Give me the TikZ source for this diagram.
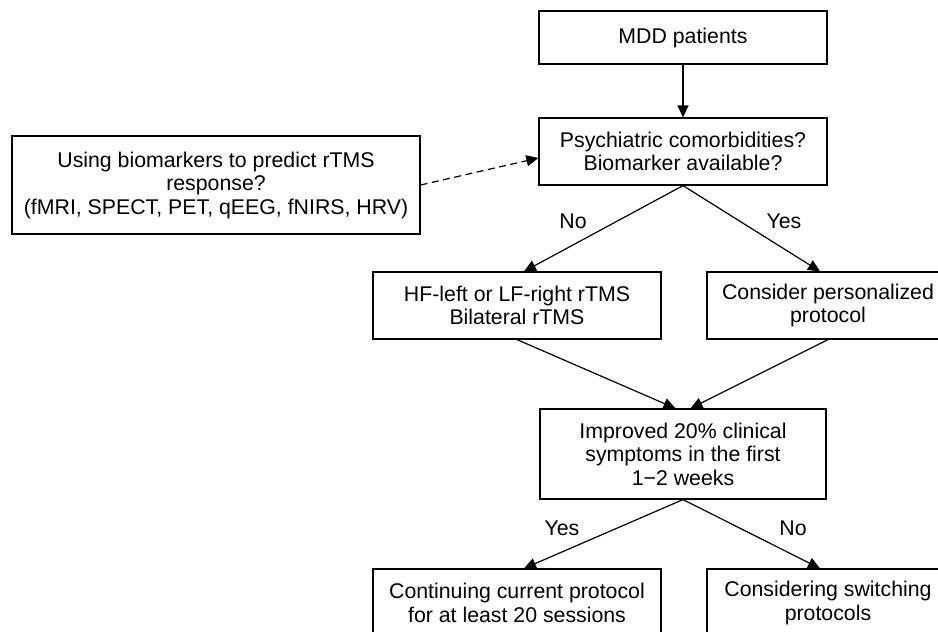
\documentclass[tikz,border=0pt]{standalone}
\usepackage{fontspec}
\setmainfont{Liberation Sans}
\usetikzlibrary{arrows.meta,calc}
\begin{document}
\begin{tikzpicture}[x=1pt,y=-1pt,
  box/.style 2 args={draw, line width=1.2pt, align=center, inner sep=0pt,
    minimum width=#1, minimum height=#2, font=\fontsize{21.3}{23.5}\selectfont},
  arr/.style={line width=1.2pt, -{Triangle[length=12pt,width=11pt]}},
  dasharr/.style={arr, dash pattern=on 7pt off 4.5pt},
  lbl/.style={font=\fontsize{21.3}{23.5}\selectfont, inner sep=0pt}]
\useasboundingbox (0,0) rectangle (938,632);
\fill[white] (0,0) rectangle (938,632);
\clip (0,0) rectangle (938,632);

\node[box={288pt}{53pt}] (mdd) at (683,37.5) {MDD patients};
\node[box={288pt}{67pt}] (psych) at (683,151.5) {Psychiatric comorbidities?\\Biomarker available?};
\node[box={408pt}{98pt}] (bio) at (216,185) {Using biomarkers to predict rTMS\\response?\\(fMRI, SPECT, PET, qEEG, fNIRS, HRV)};
\node[box={288pt}{67pt}] (hf) at (517,305.5) {HF-left or LF-right rTMS\\Bilateral rTMS};
\node[box={242pt}{67pt}] (pers) at (828,305.5) {Consider personalized\\protocol};
\node[box={286pt}{90pt}] (imp) at (683,454) {Improved 20\% clinical\\symptoms in the first\\1−2 weeks};
\node[box={288pt}{68pt}] (cont) at (517,603) {Continuing current protocol\\for at least 20 sessions};
\node[box={242pt}{68pt}] (sw) at (828,603) {Considering switching\\protocols};

\draw[arr] (mdd) -- (psych);
\draw[dasharr] (bio.east) -- ($(psych.west)+(0,6.5)$);
\draw[arr] (psych.south) -- ($(hf.north)+(7,0)$);
\draw[arr] (psych.south) -- ($(pers.north)+(-8,0)$);
\draw[arr] (hf.south) -- ($(imp.north)+(-7.5,0)$);
\draw[arr] (pers.south) -- ($(imp.north)+(7.5,0)$);
\draw[arr] (imp.south) -- ($(cont.north)+(7,0)$);
\draw[arr] (imp.south) -- ($(sw.north)+(-8,0)$);

\node[lbl] (no1) at (573,221) {No};
\node[lbl] (yes1) at (784,221) {Yes};
\node[lbl] (yes2) at (562,528) {Yes};
\node[lbl] (no2) at (793,528) {No};
\end{tikzpicture}
\end{document}
